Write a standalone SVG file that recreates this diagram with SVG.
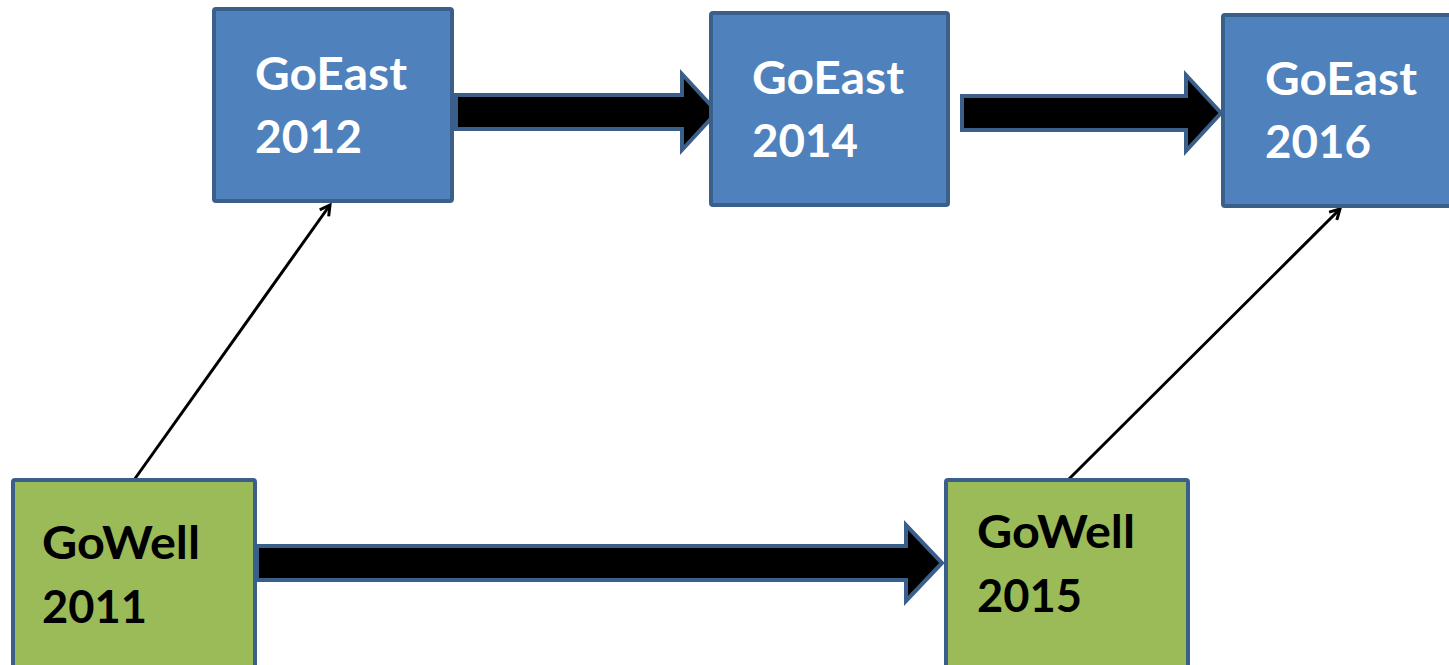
<svg xmlns="http://www.w3.org/2000/svg" width="1449" height="665" viewBox="0 0 1449 665">
<defs>
<style>
.east{fill:#4F81BD;stroke:#3A5F8B;stroke-width:4}
.well{fill:#9BBB59;stroke:#3A5F8B;stroke-width:4}
.block{fill:#000;stroke:#3A5F8B;stroke-width:4;stroke-linejoin:miter}
.thin{stroke:#000;stroke-width:3;fill:none}
.t{font-family:Lato,"Open Sans","Liberation Sans",sans-serif;font-weight:bold;font-size:46px}
.w{fill:#fff}
.k{fill:#000}
</style>
<marker id="open" markerWidth="14" markerHeight="14" refX="11" refY="7" orient="auto" markerUnits="userSpaceOnUse">
<path d="M1,1.5 L11,7 L1,12.5" fill="none" stroke="#000" stroke-width="3"/>
</marker>
</defs>
<rect width="1449" height="665" fill="#fff"/>
<g id="connectors">
<path class="block" d="M456,95 L682,95 L682,74 L717,112 L682,150 L682,129 L456,129 Z"/>
<path class="block" d="M962,96 L1186,96 L1186,75 L1221,113 L1186,151 L1186,130 L962,130 Z"/>
<path class="block" d="M257,546 L906,546 L906,525 L942,563 L906,601 L906,580 L257,580 Z"/>
<line class="thin" x1="134" y1="480" x2="330" y2="205" marker-end="url(#open)"/>
<line class="thin" x1="1068" y1="480" x2="1340" y2="209" marker-end="url(#open)"/>
</g>
<g id="goeast2012">
<rect class="east" x="214" y="9" width="238" height="192" rx="2"/>
<text class="t w" x="255" y="90" textLength="152" lengthAdjust="spacingAndGlyphs">GoEast</text>
<text class="t w" x="255" y="153" textLength="107" lengthAdjust="spacingAndGlyphs">2012</text>
</g>
<g id="goeast2014">
<rect class="east" x="711" y="13" width="237" height="192" rx="2"/>
<text class="t w" x="752" y="94" textLength="152" lengthAdjust="spacingAndGlyphs">GoEast</text>
<text class="t w" x="752" y="157" textLength="106" lengthAdjust="spacingAndGlyphs">2014</text>
</g>
<g id="goeast2016">
<rect class="east" x="1223" y="15" width="240" height="191" rx="2"/>
<text class="t w" x="1265" y="95" textLength="152" lengthAdjust="spacingAndGlyphs">GoEast</text>
<text class="t w" x="1265" y="158" textLength="106" lengthAdjust="spacingAndGlyphs">2016</text>
</g>
<g id="gowell2011">
<rect class="well" x="13" y="480" width="242" height="200" rx="2"/>
<text class="t k" x="42" y="559" textLength="158" lengthAdjust="spacingAndGlyphs">GoWell</text>
<text class="t k" x="42" y="623" textLength="105" lengthAdjust="spacingAndGlyphs">2011</text>
</g>
<g id="gowell2015">
<rect class="well" x="946" y="480" width="242" height="200" rx="2"/>
<text class="t k" x="977" y="548" textLength="158" lengthAdjust="spacingAndGlyphs">GoWell</text>
<text class="t k" x="977" y="612" textLength="105" lengthAdjust="spacingAndGlyphs">2015</text>
</g>
</svg>
